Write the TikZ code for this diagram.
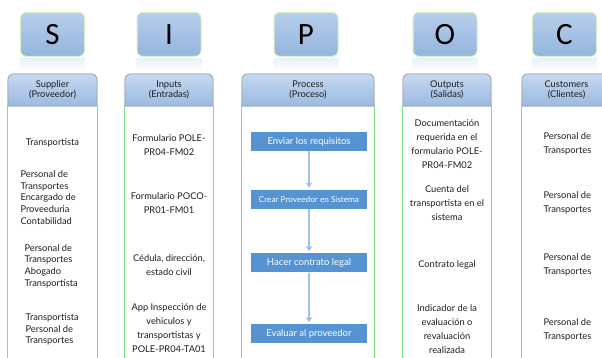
\documentclass[tikz,border=0pt]{standalone}
\usepackage{fontspec}
\setmainfont{Lato}
\newfontfamily\letterfont{Carlito}
\usetikzlibrary{positioning,arrows.meta,backgrounds}
\definecolor{cLetTop}{HTML}{B7CFEC}
\definecolor{cLetBot}{HTML}{94B4DE}
\definecolor{cGlow}{HTML}{D3F0C2}
\definecolor{cHeadTop}{HTML}{C6D8EF}
\definecolor{cHeadBot}{HTML}{9BB9E0}
\definecolor{cHeadLine}{HTML}{6E7C8A}
\definecolor{cBody}{HTML}{7FE07F}
\definecolor{cStep}{HTML}{5593D2}
\definecolor{cFlow}{HTML}{A0C2E6}
\definecolor{cText}{HTML}{1E1E1E}
\tikzset{
  font=\fontsize{9}{11.5}\selectfont,
  letter/.style={draw=cGlow,line width=1pt,rounded corners=6pt,top color=cLetTop,
                 bottom color=cLetBot,minimum width=64pt,minimum height=44pt,inner sep=0pt,
                 font=\letterfont\fontsize{31}{31}\selectfont,text=black},
  reflect/.style={top color=cLetTop!30,bottom color=white},
  head/.style={minimum height=32pt,inner sep=0pt,align=center,text=cText,
               font=\fontsize{9.3}{10}\selectfont},
  headbox/.style={draw=cHeadLine,line width=0.5pt,top color=cHeadTop,bottom color=cHeadBot},
  colline/.style={draw=cBody,line width=1pt},
  stepbox/.style={fill=cStep,text=white,minimum width=116pt,minimum height=19pt,inner sep=1pt,
                  font=\fontsize{9.5}{10}\selectfont},
  flow/.style={-{Triangle[length=5pt,width=6pt]},line width=1.6pt,cFlow,shorten >=2pt},
  txt/.style={align=center,text=cText,font=\fontsize{9.3}{14}\selectfont},
  suptxt/.style={align=left,anchor=west,text=cText,font=\fontsize{9.3}{11.6}\selectfont},
  custtxt/.style={align=left,anchor=west,text=cText,font=\fontsize{9.3}{14}\selectfont},
}

\begin{document}
\begin{tikzpicture}[x=1pt,y=1pt]
\useasboundingbox (0,0) rectangle (602,358);

% ============ COLUMN HEADERS ============
\node[head, minimum width=89pt] (hS) at (52.5,268) {Supplier\\(Proveedor)};
\node[head, minimum width=88pt] (hI) at (169,268) {Inputs\\(Entradas)};
\node[head, minimum width=132pt] (hP) at (308,268) {Process\\(Proceso)};
\node[head, minimum width=88pt] (hO) at (447,268) {Outputs\\(Salidas)};
\node[head, minimum width=89pt] (hC) at (566.5,268) {Customers\\(Clientes)};

% ============ SIPOC LETTERS ============
\node[letter, above=17pt of hS] (lS) {S};
\node[letter, above=17pt of hI] (lI) {I};
\node[letter, above=17pt of hP, xshift=-2pt] (lP) {P};
\node[letter, above=17pt of hO, xshift=-2pt] (lO) {O};
\node[letter, above=17pt of hC, xshift=-2pt] (lC) {C};

% ---------- header tabs + column sides ----------
\begin{scope}[on background layer]
  \foreach \h in {hS,hI,hP,hO,hC} {
    \draw[colline] (\h.south west) -- ++(0,-260);
    \draw[colline] (\h.south east) -- ++(0,-260);
    \path[headbox] (\h.south west) -- ([yshift=-6pt]\h.north west)
      arc[start angle=180,end angle=90,radius=6pt] -- ([xshift=-6pt]\h.north east)
      arc[start angle=90,end angle=0,radius=6pt] -- (\h.south east) -- cycle;
  }
  \foreach \l in {lS,lI,lP,lO,lC}
    \path[reflect] ([yshift=-1.5pt]\l.south west) rectangle ([yshift=-14pt]\l.south east);
\end{scope}

% ============ SUPPLIER ============
\node[txt] (s1) at (52.5,215) {Transportista};
\node[suptxt] (s2) at (17,160.5) {Personal de\\Transportes\\Encargado de\\Proveeduria\\Contabilidad};
\node[suptxt] (s3) at (21,92) {Personal de\\Transportes\\Abogado\\Transportista};
\node[suptxt] (s4) at (22,28.5) {Transportista\\Personal de\\Transportes};

% ============ INPUTS ============
\node[txt] (i1) at (169,213) {Formulario POLE-\\PR04-FM02};
\node[txt] (i2) at (169,154.5) {Formulario POCO-\\PR01-FM01};
\node[txt] (i3) at (169,93) {Cédula, dirección,\\estado civil};
\node[txt] (i4) at (169,29.5) {App Inspección de\\vehiculos y\\transportistas y\\POLE-PR04-TA01};

% ============ PROCESS ============
\node[stepbox] (p1) at (309,216.5) {Enviar los requisitos};
\node[stepbox, font=\fontsize{8.2}{9}\selectfont] (p2) at (309,158.5) {Crear Proveedor en Sistema};
\node[stepbox] (p3) at (309,95) {Hacer contrato legal};
\node[stepbox] (p4) at (309,24) {Evaluar al proveedor};

\draw[flow] (p1) -- (p2);
\draw[flow] (p2) -- (p3);
\draw[flow] (p3) -- (p4);

% ============ OUTPUTS ============
\node[txt] (o1) at (447,213.5) {Documentación\\requerida en el\\formulario POLE-\\PR04-FM02};
\node[txt] (o2) at (447,155) {Cuenta del\\transportista en el\\sistema};
\node[txt] (o3) at (447,93) {Contrato legal};
\node[txt] (o4) at (447,28.5) {Indicador de la\\evaluación o\\revaluación\\realizada};

% ============ CUSTOMERS ============
\node[custtxt] (c1) at (540,214) {Personal de\\Transportes};
\node[custtxt] (c2) at (540,155) {Personal de\\Transportes};
\node[custtxt] (c3) at (540,93) {Personal de\\Transportes};
\node[custtxt] (c4) at (540,28.5) {Personal de\\Transportes};

\end{tikzpicture}
\end{document}
